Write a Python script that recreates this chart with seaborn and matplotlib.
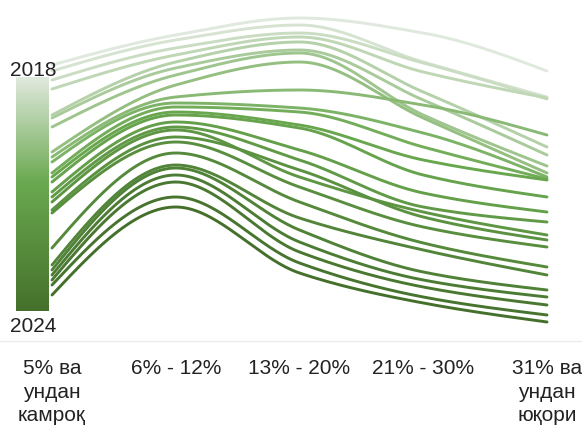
import numpy as np
import pandas as pd
import seaborn as sns
import matplotlib.pyplot as plt
from matplotlib.colors import LinearSegmentedColormap
import matplotlib as mpl

sns.set_style("white")
plt.rcParams['font.family'] = ['Liberation Sans', 'DejaVu Sans']

# categories (interest rate brackets)
categories = ["5% ва\nундан\nкамроқ", "6% - 12%", "13% - 20%", "21% - 30%", "31% ва\nундан\nюқори"]

# one value per period (2018 -> 2024) for each bracket
lt5 = [27.6, 27.0, 26.1, 25.2, 22.6, 22.3, 21.4, 18.9, 18.4, 17.9, 16.8, 16.4, 15.9,
       14.9, 14.4, 13.9, 13.1, 12.8, 9.3, 7.6, 7.1, 6.6, 6.1, 5.6, 4.6]
r6_12 = [30.6, 30.1, 29.3, 28.6, 27.9, 27.3, 26.6, 25.6, 24.4, 23.8, 23.4, 22.9, 22.6,
         21.9, 21.4, 21.1, 20.4, 19.9, 18.8, 17.6, 17.3, 16.6, 15.9, 14.4, 13.4]
r13_20 = [32.3, 31.6, 30.8, 30.4, 29.9, 29.1, 28.8, 27.9, 25.1, 23.3, 22.9, 21.6, 21.3,
          19.1, 18.1, 16.4, 17.1, 15.4, 13.9, 12.3, 11.1, 9.9, 8.9, 7.8, 6.8]
r21_30 = [30.8, 27.9, 27.8, 26.9, 24.9, 24.1, 22.6, 22.3, 23.6, 20.8, 19.4, 18.1, 16.6,
          14.8, 13.4, 12.9, 12.4, 11.4, 9.8, 9.1, 6.9, 6.1, 5.4, 4.4, 3.8]
gt31 = [27.0, 24.4, 24.2, 24.3, 19.4, 18.6, 17.5, 16.8, 20.6, 16.4, 16.2, 16.1, 14.4,
        12.9, 11.9, 10.6, 10.1, 9.4, 7.4, 6.6, 5.1, 4.4, 3.6, 2.6, 1.9]

n = len(lt5)
periods = [f"{2018 + i // 4}Q{i % 4 + 1}" for i in range(n)]

cmap = LinearSegmentedColormap.from_list(
    "grn", [(0.0, "#e0e9dd"), (0.45, "#6aa84f"), (1.0, "#44702b")], N=256)
palette = {p: cmap(t) for p, t in zip(periods, np.linspace(0, 1, n))}


def monotone(y, num=60):
    # monotone cubic curve through the points (d3 curveMonotoneX style)
    x = np.arange(len(y), dtype=float)
    y = np.asarray(y, dtype=float)
    d = np.diff(y)
    m = np.zeros(len(y))
    for i in range(1, len(y) - 1):
        if d[i - 1] * d[i] > 0:
            m[i] = 2 / (1 / d[i - 1] + 1 / d[i])
    m[0] = 1.5 * d[0] - 0.5 * m[1]
    m[-1] = 1.5 * d[-1] - 0.5 * m[-2]
    xs, ys = [], []
    for i in range(len(y) - 1):
        t = np.linspace(0, 1, num, endpoint=False)
        h00 = 2 * t**3 - 3 * t**2 + 1
        h10 = t**3 - 2 * t**2 + t
        h01 = -2 * t**3 + 3 * t**2
        h11 = t**3 - t**2
        xs.append(x[i] + t)
        ys.append(h00 * y[i] + h10 * m[i] + h01 * y[i + 1] + h11 * m[i + 1])
    xs.append([x[-1]])
    ys.append([y[-1]])
    return np.concatenate(xs), np.concatenate(ys)


rows = []
table = np.array([lt5, r6_12, r13_20, r21_30, gt31]).T
for p, vals in zip(periods, table):
    xs, ys = monotone(vals)
    rows.append(pd.DataFrame({"x": xs, "value": ys, "period": p}))
df = pd.concat(rows, ignore_index=True)

fig = plt.figure(figsize=(5.82, 4.26), dpi=100)
ax = fig.add_axes([0, 85 / 426, 1, 341 / 426])

sns.lineplot(data=df, x="x", y="value", hue="period", palette=palette, estimator=None,
             sort=False, legend=False, linewidth=2.1, ax=ax)

ax.set_xlim(-52 / 123.75, 4 + 35 / 123.75)
ax.set_ylim(0, 34.1)
ax.set_xticks(range(len(categories)))
ax.set_xticklabels(categories, fontsize=15, color="#222222", linespacing=1.3)
ax.tick_params(axis="x", length=0, pad=13)
ax.set_yticks([])
ax.set_xlabel("")
ax.set_ylabel("")
for s in ["top", "left", "right"]:
    ax.spines[s].set_visible(False)
ax.spines["bottom"].set_color("#ebebeb")
ax.spines["bottom"].set_linewidth(1)

# colour legend
cax = fig.add_axes([16 / 582, 115 / 426, 33 / 582, 234 / 426])
cb = mpl.colorbar.ColorbarBase(cax, cmap=cmap, orientation="vertical")
cax.invert_yaxis()
cb.outline.set_visible(False)
cax.set_yticks([])
cax.set_xticks([])
fig.text(33 / 582, 1 - 70 / 426, "2018", ha="center", va="center", fontsize=15, color="#222222")
fig.text(33 / 582, 1 - 327 / 426, "2024", ha="center", va="center", fontsize=15, color="#222222")

fig.savefig("out.png", dpi=100)
